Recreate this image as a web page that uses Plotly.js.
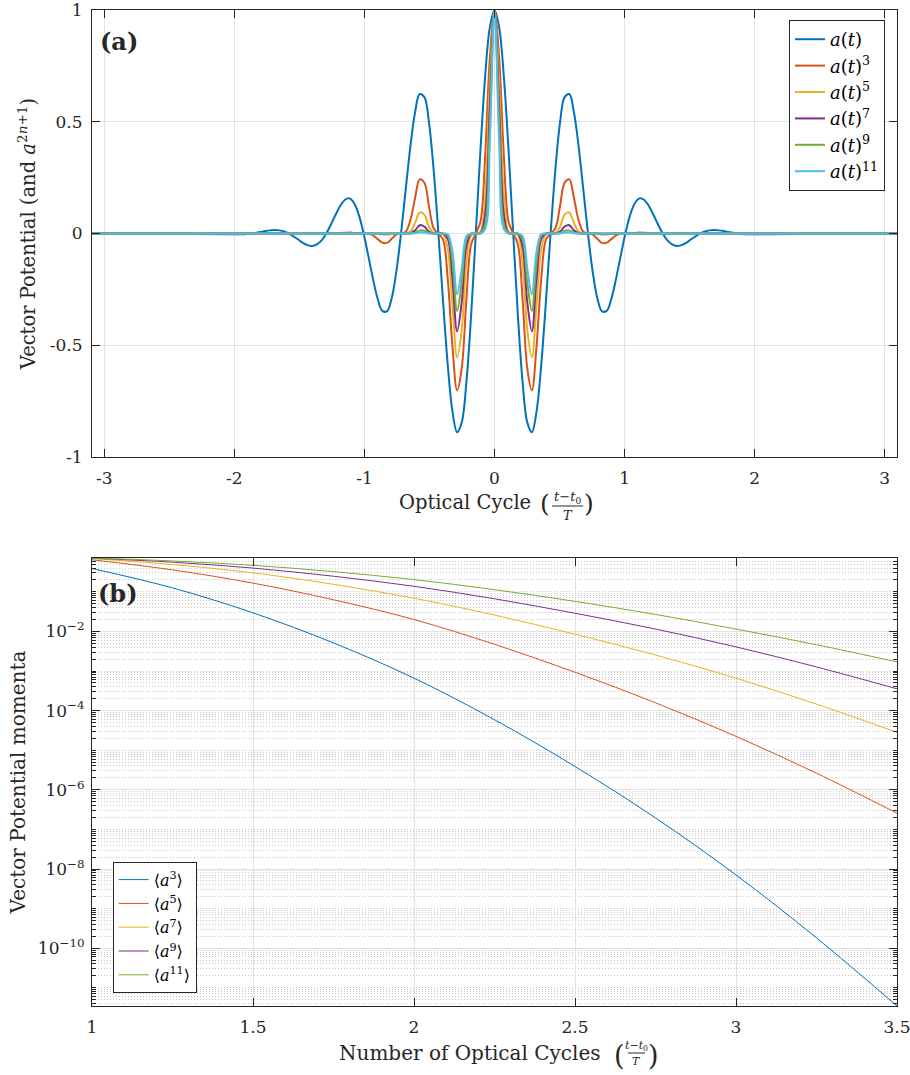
<!DOCTYPE html>
<html><head><meta charset="utf-8">
<script src="https://cdn.plot.ly/plotly-3.0.1.min.js"></script>
<style>body{margin:0;background:#fff}#chart{width:910px;height:1075px}</style>
</head><body><div id="chart"></div>
<script>
// ---------- Panel (a): vector potential a(t) and its odd powers ----------
const t = [-3.2, -2.0125, -1.9766, -1.9406, -1.9047, -1.8688, -1.8328, -1.7969, -1.7609, -1.725, -1.6891, -1.6531, -1.6172, -1.5813, -1.5453, -1.5094, -1.4734, -1.4375, -1.4016, -1.3656, -1.3297, -1.2938, -1.2578, -1.2219, -1.1859, -1.15, -1.1141, -1.0781, -1.0422, -1.0063, -0.9703, -0.9344, -0.8984, -0.8625, -0.8266, -0.7906, -0.7547, -0.7188, -0.6828, -0.6469, -0.6109, -0.575, -0.5391, -0.5031, -0.4672, -0.4313, -0.3953, -0.3594, -0.3234, -0.2875, -0.2516, -0.2156, -0.1797, -0.1438, -0.1078, -0.0719, -0.0359, 0, 0.0359, 0.0719, 0.1078, 0.1438, 0.1797, 0.2156, 0.2516, 0.2875, 0.3234, 0.3594, 0.3953, 0.4313, 0.4672, 0.5031, 0.5391, 0.575, 0.6109, 0.6469, 0.6828, 0.7188, 0.7547, 0.7906, 0.8266, 0.8625, 0.8984, 0.9344, 0.9703, 1.0063, 1.0422, 1.0781, 1.1141, 1.15, 1.1859, 1.2219, 1.2578, 1.2938, 1.3297, 1.3656, 1.4016, 1.4375, 1.4734, 1.5094, 1.5453, 1.5813, 1.6172, 1.6531, 1.6891, 1.725, 1.7609, 1.7969, 1.8328, 1.8688, 1.9047, 1.9406, 1.9766, 2.0125, 3.2];
const aT = [0, -0.003, -0.003, -0.003, -0.002, 0, 0.003, 0.007, 0.011, 0.014, 0.016, 0.014, 0.009, 0, -0.013, -0.027, -0.042, -0.052, -0.056, -0.049, -0.031, 0, 0.040, 0.084, 0.124, 0.151, 0.157, 0.134, 0.081, 0, -0.100, -0.203, -0.292, -0.346, -0.348, -0.290, -0.170, 0, 0.197, 0.389, 0.542, 0.624, 0.610, 0.493, 0.280, 0, -0.306, -0.588, -0.796, -0.889, -0.844, -0.662, -0.365, 0, 0.376, 0.702, 0.922, 1, 0.922, 0.702, 0.376, 0, -0.365, -0.662, -0.844, -0.889, -0.796, -0.588, -0.306, 0, 0.280, 0.493, 0.610, 0.624, 0.542, 0.389, 0.197, 0, -0.170, -0.290, -0.348, -0.346, -0.292, -0.203, -0.100, 0, 0.081, 0.134, 0.157, 0.151, 0.124, 0.084, 0.040, 0, -0.031, -0.049, -0.056, -0.052, -0.042, -0.027, -0.013, 0, 0.009, 0.014, 0.016, 0.014, 0.011, 0.007, 0.003, 0, -0.002, -0.003, -0.003, -0.003, 0];

const tCore = [-3.2, -1.2219, -1.1859, -1.15, -1.1141, -1.0781, -1.0422, -1.0063, -0.9703, -0.9344, -0.8984, -0.8625, -0.8266, -0.7906, -0.7547, -0.7188, -0.6828, -0.6469, -0.6109, -0.575, -0.5391, -0.5031, -0.4672, -0.4313, -0.3953, -0.3594, -0.3234, -0.2875, -0.2516, -0.2156, -0.1797, -0.1438, -0.1078, -0.0719, -0.0359, 0, 0.0359, 0.0719, 0.1078, 0.1438, 0.1797, 0.2156, 0.2516, 0.2875, 0.3234, 0.3594, 0.3953, 0.4313, 0.4672, 0.5031, 0.5391, 0.575, 0.6109, 0.6469, 0.6828, 0.7188, 0.7547, 0.7906, 0.8266, 0.8625, 0.8984, 0.9344, 0.9703, 1.0063, 1.0422, 1.0781, 1.1141, 1.15, 1.1859, 1.2219, 3.2];
const a3 = [0, 0.001, 0.002, 0.003, 0.004, 0.002, 0.001, 0, -0.001, -0.008, -0.025, -0.041, -0.042, -0.024, -0.005, 0, 0.008, 0.059, 0.159, 0.242, 0.227, 0.119, 0.022, 0, -0.029, -0.203, -0.504, -0.702, -0.601, -0.290, -0.049, 0, 0.053, 0.346, 0.784, 1, 0.784, 0.346, 0.053, 0, -0.049, -0.290, -0.601, -0.702, -0.504, -0.203, -0.029, 0, 0.022, 0.119, 0.227, 0.242, 0.159, 0.059, 0.008, 0, -0.005, -0.024, -0.042, -0.041, -0.025, -0.008, -0.001, 0, 0.001, 0.002, 0.004, 0.003, 0.002, 0.001, 0];
const a5 = [0, 0, 0, 0, 0, 0, 0, 0, 0, 0, -0.002, -0.005, -0.005, -0.002, 0, 0, 0, 0.009, 0.047, 0.094, 0.084, 0.029, 0.002, 0, -0.003, -0.070, -0.319, -0.554, -0.428, -0.127, -0.007, 0, 0.008, 0.170, 0.667, 1, 0.667, 0.170, 0.008, 0, -0.007, -0.127, -0.428, -0.554, -0.319, -0.070, -0.003, 0, 0.002, 0.029, 0.084, 0.094, 0.047, 0.009, 0, 0, 0, -0.002, -0.005, -0.005, -0.002, 0, 0, 0, 0, 0, 0, 0, 0, 0, 0];
const a7 = [0, 0, 0, 0, 0, 0, 0, 0, 0, 0, 0, -0.001, -0.001, 0, 0, 0, 0, 0.001, 0.014, 0.037, 0.031, 0.007, 0, 0, 0, -0.024, -0.202, -0.438, -0.305, -0.056, -0.001, 0, 0.001, 0.084, 0.567, 1, 0.567, 0.084, 0.001, 0, -0.001, -0.056, -0.305, -0.438, -0.202, -0.024, 0, 0, 0, 0.007, 0.031, 0.037, 0.014, 0.001, 0, 0, 0, 0, -0.001, -0.001, 0, 0, 0, 0, 0, 0, 0, 0, 0, 0, 0];
const a9 = [0, 0, 0, 0, 0, 0, 0, 0, 0, 0, 0, 0, 0, 0, 0, 0, 0, 0, 0.004, 0.014, 0.012, 0.002, 0, 0, 0, -0.008, -0.128, -0.346, -0.217, -0.024, 0, 0, 0, 0.041, 0.482, 1, 0.482, 0.041, 0, 0, 0, -0.024, -0.217, -0.346, -0.128, -0.008, 0, 0, 0, 0.002, 0.012, 0.014, 0.004, 0, 0, 0, 0, 0, 0, 0, 0, 0, 0, 0, 0, 0, 0, 0, 0, 0, 0];
const a11 = [0, 0, 0, 0, 0, 0, 0, 0, 0, 0, 0, 0, 0, 0, 0, 0, 0, 0, 0.001, 0.006, 0.004, 0, 0, 0, 0, -0.003, -0.081, -0.273, -0.155, -0.011, 0, 0, 0, 0.020, 0.410, 1, 0.410, 0.020, 0, 0, 0, -0.011, -0.155, -0.273, -0.081, -0.003, 0, 0, 0, 0, 0.004, 0.006, 0.001, 0, 0, 0, 0, 0, 0, 0, 0, 0, 0, 0, 0, 0, 0, 0, 0, 0, 0];
const topNames = ['<i>a</i>(<i>t</i>)', '<i>a</i>(<i>t</i>)<sup>3</sup>', '<i>a</i>(<i>t</i>)<sup>5</sup>', '<i>a</i>(<i>t</i>)<sup>7</sup>', '<i>a</i>(<i>t</i>)<sup>9</sup>', '<i>a</i>(<i>t</i>)<sup>11</sup>'];
const xTicksA = [-3, -2, -1, 0, 1, 2, 3];
const xTickTextA = ['-3', '-2', '-1', '0', '1', '2', '3'];
const yTicksA = [-1, -0.5, 0, 0.5, 1];
const yTickTextA = ['-1', '-0.5', '0', '0.5', '1'];

// ---------- Panel (b): vector potential momenta ----------
const cycles = [1, 1.25, 1.5, 1.75, 2, 2.25, 2.5, 2.75, 3, 3.25, 3.5];
const m3  = [0.389, 0.126, 0.0295, 0.00513, 6.61e-4, 5.89e-5, 3.89e-6, 1.95e-7, 7.08e-9, 1.82e-10, 3.47e-12];
const m5  = [0.646, 0.359, 0.166, 0.0631, 0.0200, 0.00473, 9.33e-4, 1.58e-4, 2.24e-5, 2.63e-6, 2.57e-7];
const m7  = [0.692, 0.490, 0.302, 0.155, 0.0692, 0.0260, 0.00851, 0.00254, 6.61e-4, 1.46e-4, 2.82e-5];
const m9  = [0.708, 0.562, 0.398, 0.248, 0.138, 0.0668, 0.0288, 0.0115, 0.00407, 0.00127, 3.55e-4];
const m11 = [0.716, 0.603, 0.468, 0.324, 0.204, 0.1135, 0.0575, 0.0269, 0.01148, 0.00462, 0.0017];
const botNames = ['⟨<i>a</i><sup>3</sup>⟩', '⟨<i>a</i><sup>5</sup>⟩', '⟨<i>a</i><sup>7</sup>⟩', '⟨<i>a</i><sup>9</sup>⟩', '⟨<i>a</i><sup>11</sup>⟩'];
const xTicksB = [1, 1.5, 2, 2.5, 3, 3.5];
const xTickTextB = ['1', '1.5', '2', '2.5', '3', '3.5'];
const yTicksB = [1e-2, 1e-4, 1e-6, 1e-8, 1e-10];
const yTickTextB = ['10<sup>−2</sup>', '10<sup>−4</sup>', '10<sup>−6</sup>', '10<sup>−8</sup>', '10<sup>−10</sup>'];

// ---------- styling ----------
const colors = ['#0072BD', '#D95319', '#EDB120', '#7E2F8E', '#77AC30', '#4DBEEE'];
const FONT = 'DejaVu Serif';
const ink = '#262626';

const topY = [aT, a3, a5, a7, a9, a11];
const topX = [t, tCore, tCore, tCore, tCore, tCore];
const traces = [];
topY.forEach((ys, i) => traces.push({
  type: 'scatter', mode: 'lines', x: topX[i], y: ys, name: topNames[i],
  line: {color: colors[i], width: 2, shape: 'spline', smoothing: 1},
  xaxis: 'x', yaxis: 'y', legend: 'legend', hoverinfo: 'skip'
}));
const botY = [m3, m5, m7, m9, m11];
botY.forEach((ys, i) => traces.push({
  type: 'scatter', mode: 'lines', x: cycles, y: ys, name: botNames[i],
  line: {color: colors[i], width: 1, shape: 'spline', smoothing: 1},
  xaxis: 'x2', yaxis: 'y2', legend: 'legend2', hoverinfo: 'skip'
}));

const minorVals = [];
for (let e = -12; e <= 0; e++) for (let m = 1; m <= 9; m++) minorVals.push(m * Math.pow(10, e));

const axBase = {
  showline: true, linecolor: ink, linewidth: 1, mirror: 'ticks',
  ticks: 'inside', ticklen: 8, tickcolor: ink, tickwidth: 1,
  showgrid: true, gridcolor: '#e1e1e1', gridwidth: 1, zeroline: false,
  tickfont: {family: FONT, size: 17, color: ink}, tickmode: 'array',
  ticklabeloverflow: 'allow'
};
const px = v => (v - 92) / 805;
const py = v => (1006 - v) / 996;
const ttl = (text, x, y, size, anchor) => ({text, x: px(x), y: py(y), xref: 'paper', yref: 'paper',
  xanchor: anchor || 'center', yanchor: 'middle', showarrow: false, font: {family: FONT, size, color: ink}});

const layout = {
  width: 910, height: 1075,
  margin: {l: 92, r: 13, t: 10, b: 69},
  paper_bgcolor: '#ffffff', plot_bgcolor: '#ffffff',
  font: {family: FONT, color: ink},
  showlegend: true, hovermode: false,
  xaxis: Object.assign({}, axBase, {domain: [0, 1], anchor: 'y', range: [-3.095, 3.095],
    tickvals: xTicksA, ticktext: xTickTextA, ticklabelstandoff: 6}),
  yaxis: Object.assign({}, axBase, {domain: [0.5512, 1], anchor: 'x', range: [-1, 1],
    tickvals: yTicksA, ticktext: yTickTextA, ticklabelstandoff: 5,
    title: {text: 'Vector Potential (and <i>a</i><sup>2<i>n</i>+1</sup>)', font: {family: FONT, size: 19.5, color: ink}, standoff: 8}}),
  xaxis2: Object.assign({}, axBase, {domain: [0, 1], anchor: 'y2', range: [1, 3.5],
    tickvals: xTicksB, ticktext: xTickTextB, ticklabelstandoff: 6}),
  yaxis2: Object.assign({}, axBase, {domain: [0, 0.4498], anchor: 'x2', type: 'log', range: [-11.46, -0.145],
    tickvals: yTicksB, ticktext: yTickTextB, ticklabelstandoff: 3,
    minor: {tickmode: 'array', tickvals: minorVals, ticks: 'inside', ticklen: 4, tickcolor: ink,
      showgrid: true, gridcolor: '#c8c8c8', griddash: '1px,2px', gridwidth: 1},
    title: {text: 'Vector Potential momenta', font: {family: FONT, size: 20, color: ink}, standoff: 6}}),
  legend: {x: px(885), xanchor: 'right', y: py(20), yanchor: 'top', bgcolor: '#ffffff',
    bordercolor: ink, borderwidth: 1, font: {family: FONT, size: 18, color: '#000'}, tracegroupgap: 0},
  legend2: {x: px(112.7), xanchor: 'left', y: py(992.7), yanchor: 'bottom', bgcolor: '#ffffff',
    bordercolor: ink, borderwidth: 1, font: {family: FONT, size: 16, color: '#000'}, tracegroupgap: 0},
  annotations: [
    ttl('<b>(a)</b>', 119, 41, 24),
    ttl('<b>(b)</b>', 118, 593, 24),
    ttl('Optical Cycle', 533, 502, 19.5, 'right'),
    ttl('(', 545, 503, 25),
    ttl('<i>t</i>−<i>t</i><sub>0</sub>', 567.5, 497, 13),
    ttl('<i>T</i>', 567.5, 515, 13),
    ttl(')', 589, 503, 25),
    ttl('Number of Optical Cycles', 603, 1053, 20, 'right'),
    ttl('(', 619, 1055, 27),
    ttl('<i>t</i>−<i>t</i><sub>0</sub>', 636.5, 1046, 11),
    ttl('<i>T</i>', 636.5, 1061, 11),
    ttl(')', 653, 1055, 27)
  ],
  shapes: [
    {type: 'line', xref: 'paper', yref: 'paper', x0: px(552), x1: px(583), y0: py(506), y1: py(506), line: {color: ink, width: 1}},
    {type: 'line', xref: 'paper', yref: 'paper', x0: px(628), x1: px(645), y0: py(1053), y1: py(1053), line: {color: ink, width: 1}}
  ]
};

Plotly.newPlot('chart', traces, layout, {staticPlot: true, displayModeBar: false});
</script>
</body></html>
